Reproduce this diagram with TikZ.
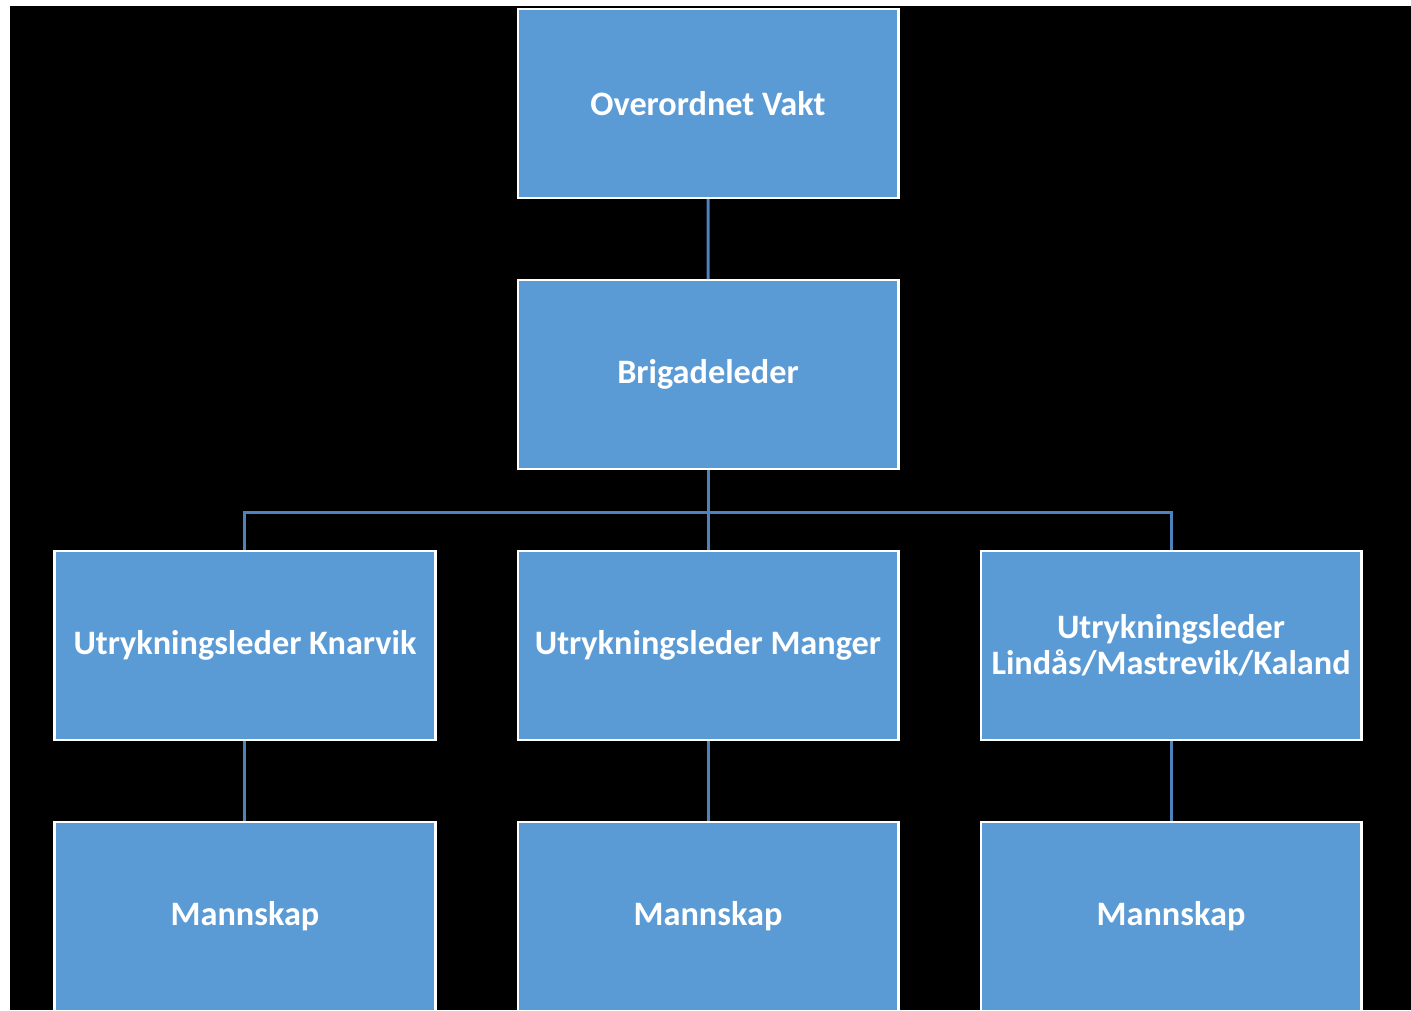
\documentclass[tikz,border=0pt]{standalone}
\usepackage{fontspec}
\setmainfont{Carlito}
\definecolor{boxblue}{RGB}{91,155,213}
\definecolor{lineblue}{RGB}{79,129,189}

\begin{document}
\begin{tikzpicture}[
    x=0.2mm, y=-0.2mm, % one unit per pixel
    level distance=54.2mm,
    level 2/.style={sibling distance=92.6mm,
        edge from parent path={(\tikzparentnode.south) -- +(0,-8.4mm) -| (\tikzchildnode.north)}},
    box/.style={draw=white, fill=boxblue, line width=0.45mm, inner sep=1mm,
        minimum width=76.15mm, minimum height=37.75mm, text=white, align=center,
        font=\bfseries\fontsize{19.5pt}{20.5pt}\selectfont},
    every child node/.style={box},
    edge from parent/.style={draw=lineblue, line width=0.6mm},
]
% background
\useasboundingbox[fill=white] (0,0) rectangle (1411,1010);
\fill[black] (10,6) rectangle (1411,1010);

\node[box] (vakt) at (708,103.5) {Overordnet Vakt}
    child {node (brigade) {Brigadeleder}
        child {node (knarvik) {Utrykningsleder Knarvik}
            child {node (mannKnarvik) {Mannskap}}
        }
        child {node (manger) {Utrykningsleder Manger}
            child {node (mannManger) {Mannskap}}
        }
        child {node (lindaas) {Utrykningsleder\\Lindås/Mastrevik/Kaland}
            child {node (mannLindaas) {Mannskap}}
        }
    };
\end{tikzpicture}
\end{document}
